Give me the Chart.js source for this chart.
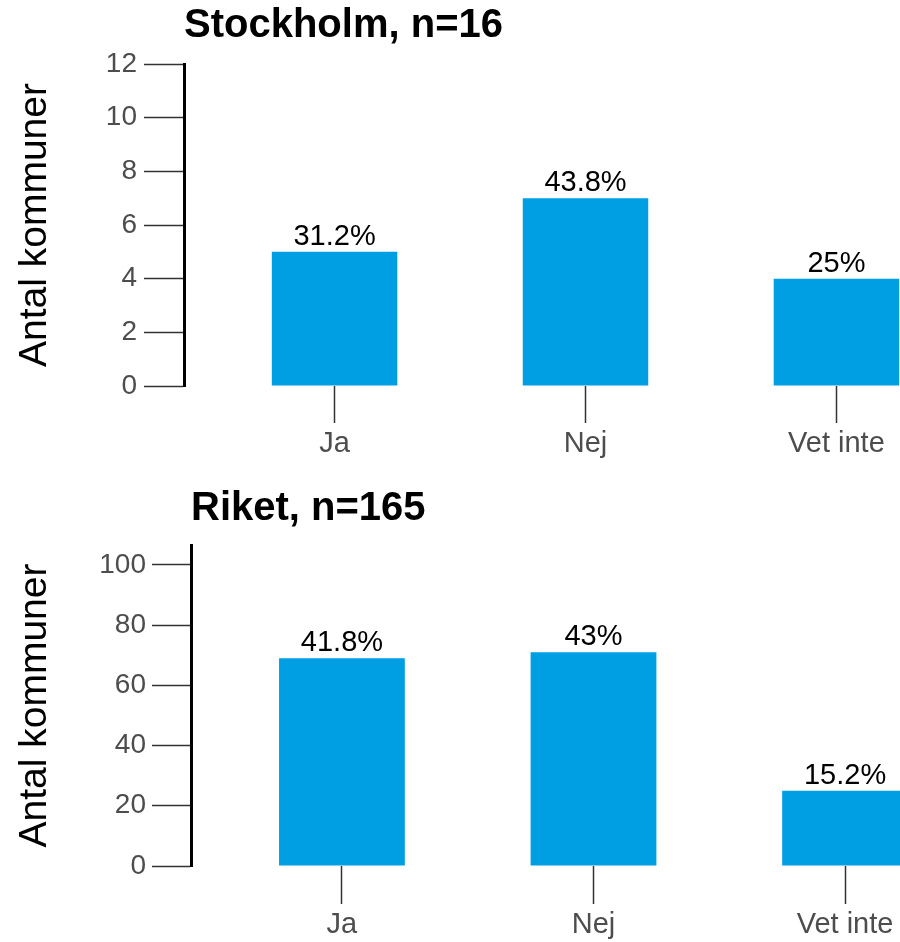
<!DOCTYPE html>
<html>
<head>
<meta charset="utf-8">
<script src="https://cdn.jsdelivr.net/npm/chart.js@4"></script>
<style>
  html, body { margin: 0; padding: 0; background: #fff; }
  #wrap { width: 900px; height: 942px; overflow: hidden; position: relative; }
  canvas { display: block; }
</style>
</head>
<body>
<div id="wrap">
  <canvas id="stockholmChart" width="1000" height="470"></canvas>
  <canvas id="riketChart" width="1000" height="472"></canvas>
</div>
<script>
// Data
const categories = ['Ja', 'Nej', 'Vet inte'];
const stockholmCounts = [5, 7, 4];
const stockholmPct = ['31.2%', '43.8%', '25%'];
const stockholmTicks = [0, 2, 4, 6, 8, 10, 12];
const riketCounts = [69, 71, 25];
const riketPct = ['41.8%', '43%', '15.2%'];
const riketTicks = [0, 20, 40, 60, 80, 100];

const FONT = '"Liberation Sans", Arial, sans-serif';
const BAR_COLOR = '#009FE3';

// draws the percentage text above each bar
const pctLabelPlugin = {
    id: 'pctLabels',
    afterDatasetsDraw(chart, args, opts) {
        const ctx = chart.ctx;
        const meta = chart.getDatasetMeta(0);
        ctx.save();
        ctx.font = '29px ' + FONT;
        ctx.fillStyle = '#000';
        ctx.textAlign = 'center';
        ctx.textBaseline = 'alphabetic';
        meta.data.forEach((bar, i) => {
            ctx.fillText(opts.labels[i], bar.x, bar.y - 7);
        });
        ctx.restore();
    }
};

function makeChart(id, cfg) {
    const ctx = document.getElementById(id).getContext('2d');
    return new Chart(ctx, {
        type: 'bar',
        data: {
            datasets: [{
                data: cfg.counts.map((v, i) => ({ x: i + 1, y: v })),
                backgroundColor: BAR_COLOR,
                borderWidth: 0,
                barPercentage: 0.5,
                categoryPercentage: 1.0
            }]
        },
        plugins: [pctLabelPlugin],
        options: {
            responsive: false,
            animation: false,
            devicePixelRatio: 1,
            layout: { padding: { left: 0, right: cfg.padRight, top: 0, bottom: 0 } },
            plugins: {
                legend: { display: false },
                tooltip: { enabled: false },
                title: {
                    display: true,
                    text: cfg.title,
                    align: 'start',
                    fullSize: false,
                    color: '#000',
                    font: { family: FONT, size: 40, weight: 'bold' },
                    padding: { top: cfg.titleTop, bottom: cfg.titleBottom }
                },
                pctLabels: { labels: cfg.pct }
            },
            scales: {
                x: {
                    type: 'linear',
                    min: 0.4,
                    max: 3.6,
                    offset: false,
                    afterBuildTicks: (scale) => {
                        scale.ticks = categories.map((c, i) => ({ value: i + 1 }));
                    },
                    afterFit: (scale) => { scale.height = cfg.xHeight; },
                    ticks: {
                        callback: (v) => categories[v - 1],
                        color: '#4d4d4d',
                        font: { family: FONT, size: 29 },
                        padding: 4,
                        maxRotation: 0
                    },
                    grid: {
                        offset: false,
                        drawOnChartArea: false,
                        drawTicks: true,
                        tickLength: cfg.xTickLen,
                        tickColor: '#333',
                        tickWidth: 1.5
                    },
                    border: { display: false }
                },
                y: {
                    min: 0,
                    max: cfg.yMax,
                    afterBuildTicks: (scale) => {
                        scale.ticks = cfg.ticks.map(v => ({ value: v }));
                    },
                    afterFit: (scale) => { scale.width = cfg.yWidth; },
                    ticks: {
                        color: '#4d4d4d',
                        font: { family: FONT, size: 28 },
                        padding: cfg.yTickPad
                    },
                    grid: {
                        drawOnChartArea: false,
                        drawTicks: true,
                        tickLength: cfg.yTickLen,
                        tickColor: '#333',
                        tickWidth: 1.5
                    },
                    border: { display: true, color: '#000', width: 3 },
                    title: {
                        display: true,
                        text: 'Antal kommuner',
                        color: '#000',
                        font: { family: FONT, size: 39 },
                        padding: { top: 12, bottom: 0 }
                    }
                }
            }
        }
    });
}

makeChart('stockholmChart', {
    title: 'Stockholm, n=16',
    counts: stockholmCounts,
    pct: stockholmPct,
    ticks: stockholmTicks,
    yMax: 12,
    yWidth: 184,
    yTickLen: 40,
    yTickPad: 7,
    xHeight: 84,
    xTickLen: 37,
    padRight: 13,
    titleTop: 2,
    titleBottom: 14
});

makeChart('riketChart', {
    title: 'Riket, n=165',
    counts: riketCounts,
    pct: riketPct,
    ticks: riketTicks,
    yMax: 106.6,
    yWidth: 191,
    yTickLen: 39,
    yTickPad: 6,
    xHeight: 76,
    xTickLen: 38,
    padRight: 4,
    titleTop: 15,
    titleBottom: 12
});
</script>
</body>
</html>
